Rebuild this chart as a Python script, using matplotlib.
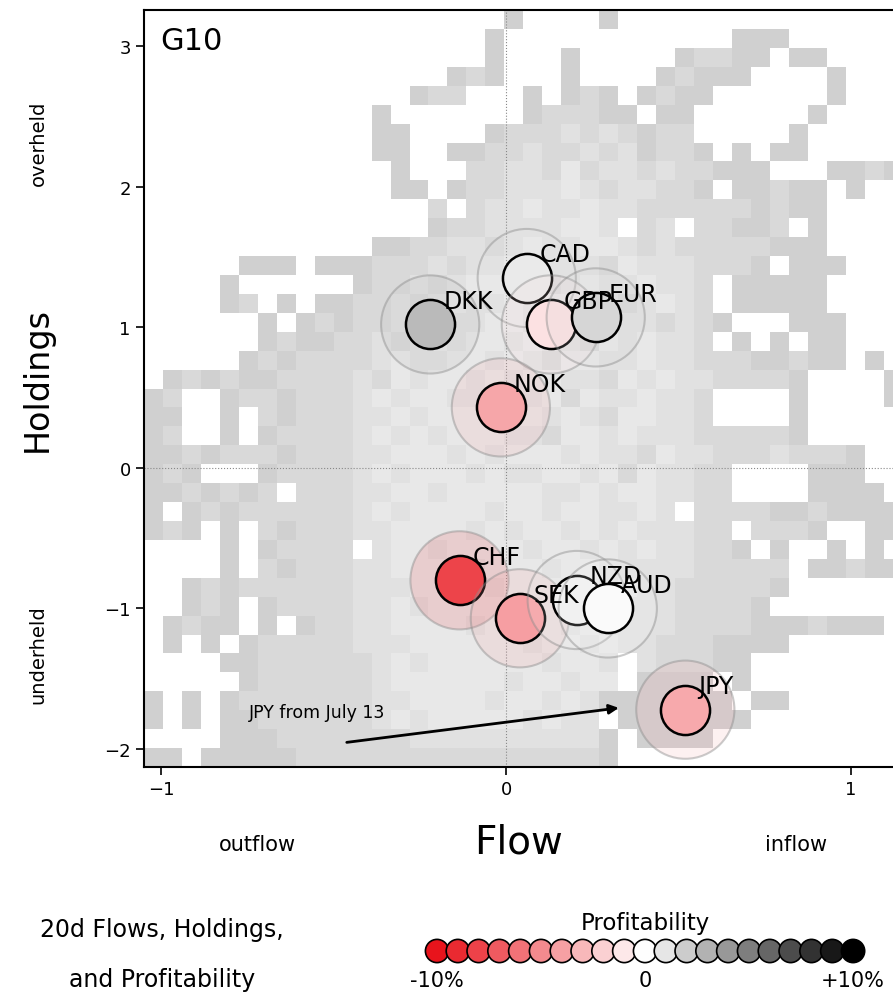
import numpy as np
import matplotlib
matplotlib.use('Agg')
import matplotlib.pyplot as plt
from matplotlib.colors import LinearSegmentedColormap, ListedColormap

# Datos de cada divisa: flujo 20d, tenencia y rentabilidad (%)
monedas = ['CAD', 'DKK', 'GBP', 'EUR', 'NOK', 'CHF', 'SEK', 'NZD', 'AUD', 'JPY']
flujo = [0.06, -0.22, 0.13, 0.26, -0.015, -0.135, 0.04, 0.205, 0.295, 0.52]
tenencia = [1.35, 1.02, 1.02, 1.07, 0.43, -0.80, -1.07, -0.94, -1.00, -1.72]
rentab = [0.8, 2.7, -1.3, 1.6, -3.8, -7.9, -4.1, 0.6, 0.2, -3.6]

# JPY desde el 13 de julio (flecha)
jpy_desde = (-0.47, -1.955)
jpy_hasta = (0.335, -1.705)

# leyenda de rentabilidad
niveles_leyenda = list(range(-10, 11))

# histograma de fondo 40x40 (fila de arriba primero), '.' = vacio, 1..5 = nivel de gris
rejilla = [
    ".......... .........2 ....2..... ..........",
    ".......... ........2. .......... .222......",
    ".......... ........2. ..2.....23 322.22....",
    ".......... ......232. ..2....232 22....2...",
    ".......... ....233... 2.232.2322 ......2...",
    ".......... ..2....... 233322.22. .....2....",
    ".......... ..22....23 334343233. ....2.....",
    ".......... ..22..2233 4334342332 .2.22.....",
    ".......... ...2...334 4353443433 222...2232",
    ".......... ...22.2334 4454344332 .22322.2..",
    ".......... .....3.344 5445443333 332322....",
    ".......... .....23344 44554.34.3 3223.2....",
    ".......... ..22334434 5445543433 333222....",
    ".....222.2 2233343445 5444354443 332.222...",
    "....2..... .233434554 4345445443 .22222....",
    "....23.2.2 2334345445 4554434543 .22222....",
    "......2.23 2334354455 4435544343 2...222...",
    "......2322 3343454554 5443545443 .2.2.22...",
    ".....23233 3345445545 4355445443 3322322.2.",
    ".232322333 3435455454 5544354544 33332....2",
    "23..233233 3454554455 4535445443 ....2....2",
    "22..2.3233 3445455545 5454355443 ....2.....",
    "23..2.2333 3454545554 4355454443 33332.....",
    "2232333233 3445554545 5545443544 33343332..",
    "232...2333 3454555454 4554535443 3....222..",
    "2232323.33 3445545555 5445455443 3....2222.",
    "2.23233333 3454555545 54554454.3 3332232222",
    "232.2.3233 3445555454 5545454443 3.3332..22",
    "....2.2333 3.45545555 4554545443 32.2..2.2.",
    "....2.3233 3445555455 5455444443 3333.22322",
    "..23233333 3444555545 5545454433 3332......",
    "..232.2333 3445455555 4554544433 332.......",
    ".2322.2.23 3445555455 5545444433 332223222.",
    ".2.2.23333 3444555555 4554544333 2222......",
    "....223333 3345455555 54554.4333 22........",
    ".....23333 3345555554 55455.2222 .2........",
    "2.2.233333 3344555545 5454222222 2.22......",
    "2.2.223333 3345455555 4544.22222 22........",
    "....222333 3333444444 44442.2222 ..........",
    "22.2222233 3333333333 33332..... ..........",
]

def leerRejilla(filas):
    # convierte las cadenas en una matriz de enteros, fila 0 abajo
    m = []
    for f in filas:
        f = (f.replace(' ', '') + '.' * 40)[:40]
        m.append([0 if c == '.' else int(c) for c in f])
    return np.array(m)[::-1]

Z = np.ma.masked_equal(leerRejilla(rejilla), 0)
xb = np.linspace(-1.05, 1.15, 41)
yb = np.linspace(-2.128, 3.256, 41)

fig = plt.figure(figsize=(8.93, 9.95), dpi=100)
ax = fig.add_axes([0.1613, 0.2281, 0.8494, 0.7608])

grises = ListedColormap(['#cbcbcb', '#d0d0d0', '#d9d9d9', '#e1e1e1', '#e8e8e8'])
ax.pcolormesh(xb, yb, Z, cmap=grises, vmin=0.5, vmax=5.5, zorder=1)
ax.axhline(0, color='#888888', lw=0.8, ls=':', zorder=2)
ax.axvline(0, color='#888888', lw=0.8, ls=':', zorder=2)

cmapProf = LinearSegmentedColormap.from_list('prof', ['#e8141c', '#ffffff', '#000000'])

def colorProf(v):
    return cmapProf((np.clip(v, -10, 10) + 10) / 20.0)

for i in range(len(monedas)):
    col = colorProf(rentab[i])
    z = 3 + 2 * i
    ax.scatter(flujo[i], tenencia[i], s=5000, color=col, alpha=0.16, edgecolors='none', zorder=z)
    ax.scatter(flujo[i], tenencia[i], s=5000, facecolors='none', edgecolors='#8c8c8c',
               linewidths=1.5, alpha=0.45, zorder=z)
    ax.scatter(flujo[i], tenencia[i], s=1250, color=col, edgecolors='black', linewidths=1.8, zorder=z + 1)
    # las etiquetas van por encima de todos los circulos
    ax.annotate(monedas[i], (flujo[i], tenencia[i]), xytext=(9.5, 12), textcoords='offset points',
                fontsize=17, ha='left', va='baseline', zorder=60)

ax.annotate('', xy=jpy_hasta, xytext=jpy_desde,
            arrowprops=dict(arrowstyle='-|>', color='black', lw=2, mutation_scale=14), zorder=40)
ax.text(-0.745, -1.735, 'JPY from July 13', fontsize=12.5, ha='left', va='center', zorder=40)
ax.text(0.021, 0.979, 'G10', transform=ax.transAxes, fontsize=22, ha='left', va='top', zorder=40)

ax.set_xlim(xb[0], xb[-1])
ax.set_ylim(yb[0], yb[-1])
ax.set_xticks([-1, 0, 1])
ax.set_yticks(range(-2, 4))
ax.tick_params(labelsize=13, length=6, width=1.2)
for s in ax.spines.values():
    s.set_linewidth(1.5)

fig.text(37 / 893, 1 - 380 / 995, 'Holdings', rotation=90, fontsize=24, ha='center', va='center')
fig.text(38 / 893, 1 - 143 / 995, 'overheld', rotation=90, fontsize=14, ha='center', va='center')
fig.text(38 / 893, 1 - 655 / 995, 'underheld', rotation=90, fontsize=14, ha='center', va='center')
fig.text(519 / 893, 1 - 843 / 995, 'Flow', fontsize=28, ha='center', va='center')
fig.text(257 / 893, 1 - 845 / 995, 'outflow', fontsize=15, ha='center', va='center')
fig.text(796 / 893, 1 - 845 / 995, 'inflow', fontsize=15, ha='center', va='center')
fig.text(162 / 893, 1 - 930 / 995, '20d Flows, Holdings,', fontsize=17, ha='center', va='center')
fig.text(162 / 893, 1 - 980 / 995, 'and Profitability', fontsize=17, ha='center', va='center')
fig.text(645 / 893, 1 - 924 / 995, 'Profitability', fontsize=16.5, ha='center', va='center')

# leyenda de puntos
ax2 = fig.add_axes([400 / 893, 0, 493 / 893, 86 / 995])
ax2.scatter(niveles_leyenda, [0] * len(niveles_leyenda), s=280,
            color=[colorProf(v) for v in niveles_leyenda], edgecolors='black', linewidths=1.2)
ax2.set_xlim(-11.78, 11.92)
ax2.set_ylim(-1, 1)
ax2.text(niveles_leyenda[0], -0.67, '-10%', fontsize=15, ha='center', va='center')
ax2.text(0, -0.67, '0', fontsize=15, ha='center', va='center')
ax2.text(niveles_leyenda[-1], -0.67, '+10%', fontsize=15, ha='center', va='center')
ax2.axis('off')

fig.savefig('out.png', dpi=100)
